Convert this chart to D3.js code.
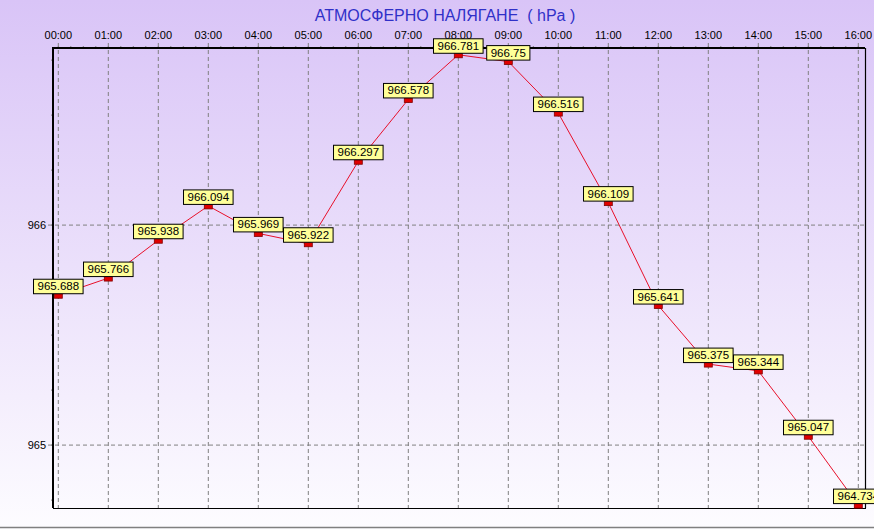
<!DOCTYPE html>
<html>
<head>
<meta charset="utf-8">
<script src="https://cdn.jsdelivr.net/npm/d3@7"></script>
<style>
  html, body { margin: 0; padding: 0; background: #fff; }
  svg { display: block; }
</style>
</head>
<body>
<div class="chart"></div>
<script>
// data
var hours = ["00:00","01:00","02:00","03:00","04:00","05:00","06:00","07:00","08:00",
             "09:00","10:00","11:00","12:00","13:00","14:00","15:00","16:00"];
var pressure = [965.688, 965.766, 965.938, 966.094, 965.969, 965.922, 966.297, 966.578, 966.781,
                966.75, 966.516, 966.109, 965.641, 965.375, 965.344, 965.047, 964.734];
var yTicks = [965, 966];
var title = "АТМОСФЕРНО НАЛЯГАНЕ  ( hPa )";

var width = 874, height = 529;
var plotLeft = 53, plotRight = 865, plotTop = 48, plotBottom = 508;

var svg = d3.select("div.chart").append("svg")
    .attr("width", width)
    .attr("height", height);

// background gradient (lavender -> white)
var defs = svg.append("defs");
var grad = defs.append("linearGradient")
    .attr("id", "bg")
    .attr("x1", 0).attr("y1", 0).attr("x2", 0).attr("y2", 1);
grad.append("stop").attr("offset", "0%").attr("stop-color", "#d9c4f7");
grad.append("stop").attr("offset", "100%").attr("stop-color", "#fdfcff");

svg.append("rect")
    .attr("width", width).attr("height", height)
    .attr("fill", "url(#bg)");

// bottom gray border of the picture
svg.append("line")
    .attr("x1", 0).attr("x2", width)
    .attr("y1", 527.5).attr("y2", 527.5)
    .attr("stroke", "#808080").attr("stroke-width", 1.5);

var x = d3.scaleLinear()
    .domain([0, hours.length - 1])
    .range([58.3, 858.3]);

// 220px per hPa, 966 at y=225
var y = d3.scaleLinear()
    .domain([964.714, 966.805])
    .range([plotBottom, plotTop]);

// title
svg.append("text")
    .attr("x", 445).attr("y", 21)
    .attr("text-anchor", "middle")
    .style("font-family", "Arial, 'Liberation Sans', sans-serif")
    .style("font-size", "16px")
    .style("white-space", "pre")
    .attr("fill", "#3030c8")
    .text(title);

// grid (vertical, every hour) - also forms the top ticks
svg.append("g").selectAll("line")
    .data(hours)
    .enter().append("line")
    .attr("x1", (d, i) => x(i)).attr("x2", (d, i) => x(i))
    .attr("y1", plotTop - 5).attr("y2", plotBottom)
    .attr("stroke", "#808080")
    .attr("stroke-dasharray", "4,3");

// grid (horizontal)
svg.append("g").selectAll("line")
    .data(yTicks)
    .enter().append("line")
    .attr("x1", plotLeft - 5).attr("x2", plotRight)
    .attr("y1", d => y(d)).attr("y2", d => y(d))
    .attr("stroke", "#808080")
    .attr("stroke-dasharray", "4,3");

// minor ticks: quarter hours on top, quarter hPa on the left
var minorX = d3.range(0, (hours.length - 1) * 4 + 1).map(d => d / 4);
svg.append("g").selectAll("line")
    .data(minorX)
    .enter().append("line")
    .attr("x1", d => x(d)).attr("x2", d => x(d))
    .attr("y1", plotTop - 2).attr("y2", plotTop)
    .attr("stroke", "#808080");

var minorY = d3.range(964.75, 966.8, 0.25);
svg.append("g").selectAll("line")
    .data(minorY)
    .enter().append("line")
    .attr("x1", plotLeft - 2).attr("x2", plotLeft)
    .attr("y1", d => y(d)).attr("y2", d => y(d))
    .attr("stroke", "#808080");

// axis labels
svg.append("g").selectAll("text")
    .data(hours)
    .enter().append("text")
    .attr("x", (d, i) => x(i))
    .attr("y", 39)
    .attr("text-anchor", "middle")
    .style("font-family", "Arial, 'Liberation Sans', sans-serif")
    .style("font-size", "11px")
    .text(d => d);

svg.append("g").selectAll("text")
    .data(yTicks)
    .enter().append("text")
    .attr("x", 46)
    .attr("y", d => y(d) + 4)
    .attr("text-anchor", "end")
    .style("font-family", "Arial, 'Liberation Sans', sans-serif")
    .style("font-size", "11px")
    .text(d => d);

// frame: thick top/left axes, thin right/bottom
var frame = svg.append("g").attr("stroke", "#000");
frame.append("line")
    .attr("x1", plotLeft).attr("x2", plotRight)
    .attr("y1", plotTop).attr("y2", plotTop)
    .attr("stroke-width", 2);
frame.append("line")
    .attr("x1", plotLeft).attr("x2", plotLeft)
    .attr("y1", plotTop - 1).attr("y2", plotBottom)
    .attr("stroke-width", 2);
frame.append("line")
    .attr("x1", plotRight + 0.5).attr("x2", plotRight + 0.5)
    .attr("y1", plotTop).attr("y2", plotBottom)
    .attr("stroke-width", 1.2);
frame.append("line")
    .attr("x1", plotLeft).attr("x2", plotRight + 1)
    .attr("y1", plotBottom + 0.5).attr("y2", plotBottom + 0.5)
    .attr("stroke-width", 1.2);

// the line
var line = d3.line()
    .x((d, i) => x(i))
    .y(d => y(d) + 1.5);

svg.append("path")
    .datum(pressure)
    .attr("d", line)
    .attr("fill", "none")
    .attr("stroke", "#e8102a")
    .attr("stroke-width", 1);

// markers
svg.append("g").selectAll("rect")
    .data(pressure)
    .enter().append("rect")
    .attr("x", (d, i) => x(i) - 4)
    .attr("y", d => y(d))
    .attr("width", 8)
    .attr("height", 4.5)
    .attr("fill", "#e00000")
    .attr("stroke", "#800000")
    .attr("stroke-width", 0.8);

// value labels
var labels = svg.append("g").selectAll("g")
    .data(pressure)
    .enter().append("g")
    .attr("transform", (d, i) => "translate(" + x(i) + "," + y(d) + ")");

labels.append("rect").attr("class", "box");
labels.append("text")
    .attr("x", 0)
    .attr("y", -3.5)
    .attr("text-anchor", "middle")
    .style("font-family", "Arial, 'Liberation Sans', sans-serif")
    .style("font-size", "11.5px")
    .text(d => d);

labels.each(function() {
    var g = d3.select(this);
    var w = g.select("text").node().getComputedTextLength() + 8;
    g.select("rect.box")
        .attr("x", -w / 2)
        .attr("y", -14.5)
        .attr("width", w)
        .attr("height", 14.5)
        .attr("fill", "#ffff99")
        .attr("stroke", "#000")
        .attr("stroke-width", 1);
});
</script>
</body>
</html>
